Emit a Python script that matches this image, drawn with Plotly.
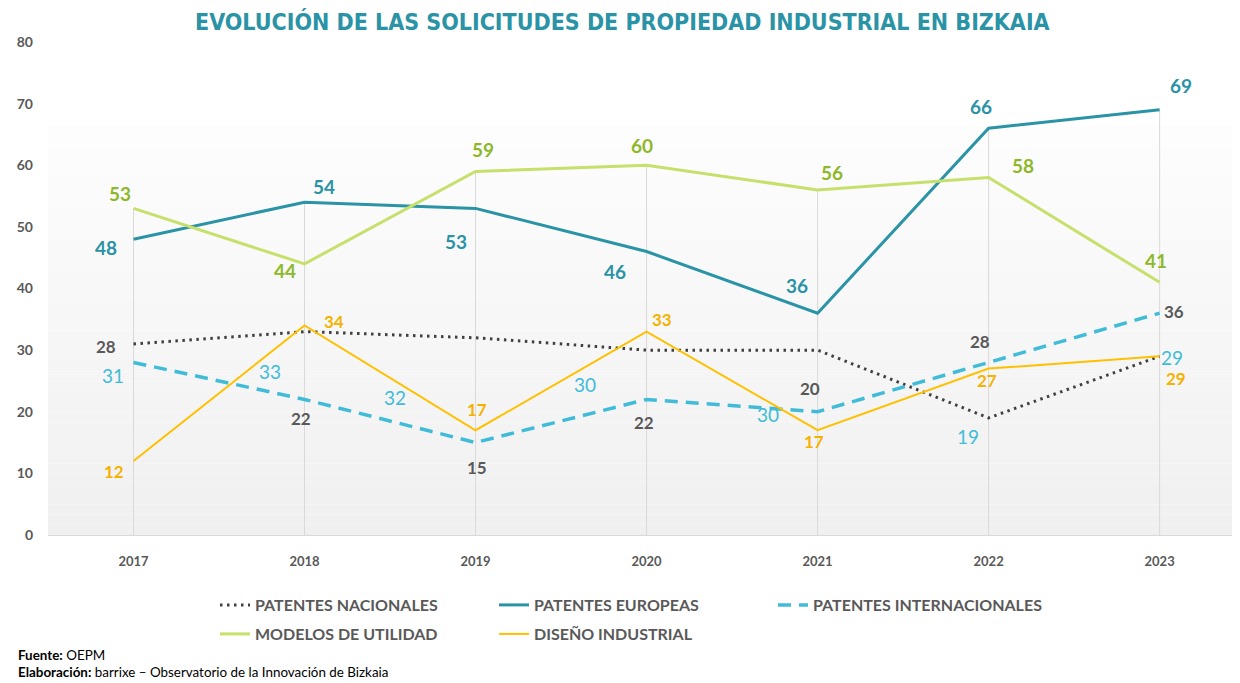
import plotly.graph_objects as go

# ---------------- data ----------------
years = ["2017", "2018", "2019", "2020", "2021", "2022", "2023"]
patentes_nacionales = [31, 33, 32, 30, 30, 19, 29]
patentes_europeas = [48, 54, 53, 46, 36, 66, 69]
patentes_internacionales = [28, 22, 15, 22, 20, 28, 36]
modelos_utilidad = [53, 44, 59, 60, 56, 58, 41]
diseno_industrial = [12, 34, 17, 33, 17, 27, 29]
y_ticks = [0, 10, 20, 30, 40, 50, 60, 70, 80]

title = "EVOLUCIÓN DE LAS SOLICITUDES DE PROPIEDAD INDUSTRIAL EN BIZKAIA"

# ---------------- styles ----------------
GREY = "#595959"
C_NAC = "#404040"
C_EUR = "#2A93A6"
C_INT = "#41BCD8"
C_MOD = "#C6E06C"
C_MOD_LBL = "#8DB82A"
C_DIS = "#FFC000"
C_DIS_LBL = "#F5B200"
LBL_FONT = "Lato"

# label pixel offsets (dx, dy screen-up) relative to the point
shift_eur = [(-28, -8), (19, 16), (-20, -33), (-32, -20), (-21, 28), (-8, 22), (21, 24)]
shift_mod = [(-14, 15), (-20, -7), (7, 22), (-5, 20), (14, 17), (34, 12), (-4, 22)]
shift_dis = [(-20, -10), (29, 4), (1, 21), (15, 12), (-4, -11), (-2, -12), (16, -22)]
shift_int = [(-28, 16), (-4, -19), (1, -25), (-3, -23), (-8, 23), (-9, 21), (14, 2)]
shift_nac = [(-21, -32), (-35, -40), (-81, -60), (-62, -34), (-50, -64), (-21, -19), (12, -1)]

# geometry (reference pixel coordinates; page body adds an 8px offset)
PL, PW = 48, 1192      # plot left / width in reference px
PB, PH = 535, 493      # plot bottom / height in reference px


def px_x(x):
    return (x - PL) / PW


def px_y(y):
    return (PB - y) / PH


fig = go.Figure()

# gradient plot background (bands)
n_bands = 40
grad_top = 66.4
for i in range(n_bands):
    y0 = grad_top * i / n_bands
    y1 = grad_top * (i + 1) / n_bands
    t = i / (n_bands - 1)  # 0 bottom -> 1 top
    v = int(round(240 + (253 - 240) * t))
    fig.add_shape(type="rect", xref="paper", yref="y", x0=0, x1=1, y0=y0, y1=y1,
                  fillcolor=f"rgb({v},{v},{v})", line_width=0, layer="below")

# drop lines from highest value to axis
all_series = [patentes_nacionales, patentes_europeas, patentes_internacionales,
              modelos_utilidad, diseno_industrial]
for i, yr in enumerate(years):
    top = max(s[i] for s in all_series)
    fig.add_shape(type="line", xref="x", yref="y", x0=i, x1=i, y0=0, y1=top,
                  line=dict(color="#D9D9D9", width=1), layer="below")

xs = list(range(len(years)))

fig.add_trace(go.Scatter(x=xs, y=patentes_nacionales, mode="lines", name="PATENTES NACIONALES",
                         line=dict(color=C_NAC, width=3, dash="2.5px,4.5px"), legend="legend"))
fig.add_trace(go.Scatter(x=xs, y=patentes_europeas, mode="lines", name="PATENTES EUROPEAS",
                         line=dict(color=C_EUR, width=3), legend="legend"))
fig.add_trace(go.Scatter(x=xs, y=patentes_internacionales, mode="lines", name="PATENTES INTERNACIONALES",
                         line=dict(color=C_INT, width=3.5, dash="13px,8px"), legend="legend"))
fig.add_trace(go.Scatter(x=xs, y=modelos_utilidad, mode="lines", name="MODELOS DE UTILIDAD",
                         line=dict(color=C_MOD, width=3), legend="legend2"))
fig.add_trace(go.Scatter(x=xs, y=diseno_industrial, mode="lines", name="DISEÑO INDUSTRIAL",
                         line=dict(color=C_DIS, width=2), legend="legend2"))


def add_labels(values, shifts, color, size, bold):
    for i, v in enumerate(values):
        dx, dy = shifts[i]
        txt = f"<b>{v}</b>" if bold else str(v)
        fig.add_annotation(x=i, y=v, xref="x", yref="y", text=txt, showarrow=False,
                           xshift=dx, yshift=dy,
                           font=dict(family=LBL_FONT, size=size, color=color))


add_labels(patentes_europeas, shift_eur, C_EUR, 19, True)
add_labels(modelos_utilidad, shift_mod, C_MOD_LBL, 19, True)
add_labels(diseno_industrial, shift_dis, C_DIS_LBL, 17, True)
add_labels(patentes_internacionales, shift_int, GREY, 17, True)
add_labels(patentes_nacionales, shift_nac, C_INT, 19, False)

# title
fig.add_annotation(x=px_x(622), y=px_y(22), xref="paper", yref="paper",
                   text=f'<span style="font-stretch:condensed">{title}</span>',
                   showarrow=False, yanchor="middle", xanchor="center",
                   font=dict(family="DejaVu Sans Condensed, DejaVu Sans", size=23,
                             color="#2A93A6", weight="bold"))

# footer
fig.add_annotation(x=px_x(16), y=px_y(655), xref="paper", yref="paper",
                   xanchor="left", yanchor="middle", showarrow=False, align="left",
                   text="<b>Fuente:</b> OEPM",
                   font=dict(family="Lato", size=13.4, color="#000000"))
fig.add_annotation(x=px_x(16), y=px_y(672), xref="paper", yref="paper",
                   xanchor="left", yanchor="middle", showarrow=False, align="left",
                   text="<b>Elaboración:</b> barrixe – Observatorio de la Innovación de Bizkaia",
                   font=dict(family="Lato", size=13.4, color="#000000"))

legend_font = dict(family="Lato", size=16, color=GREY, weight="bold")
fig.update_layout(
    width=1232, height=675,
    margin=dict(l=PL - 8, r=0, t=42 - 8, b=675 - (PB - 8)),
    paper_bgcolor="white", plot_bgcolor="white",
    showlegend=True,
    legend=dict(orientation="h", x=px_x(215), y=px_y(588),
                xanchor="left", yanchor="top", entrywidth=234, entrywidthmode="pixels",
                font=legend_font, bgcolor="rgba(0,0,0,0)", traceorder="normal"),
    legend2=dict(orientation="h", x=px_x(215), y=px_y(617),
                 xanchor="left", yanchor="top", entrywidth=234, entrywidthmode="pixels",
                 font=legend_font, bgcolor="rgba(0,0,0,0)", traceorder="normal"),
    xaxis=dict(tickmode="array", tickvals=xs, ticktext=years, range=[-0.5, 6.47],
               showgrid=False, zeroline=False, showline=True, linecolor="#D9D9D9", linewidth=1,
               ticks="", ticklabelstandoff=14,
               tickfont=dict(family="Lato", size=13, color=GREY, weight="bold")),
    yaxis=dict(range=[0, 80], tickvals=y_ticks, showgrid=False, zeroline=False,
               showline=False, ticks="", ticklabelstandoff=14,
               tickfont=dict(family="Lato", size=14, color=GREY, weight="bold")),
)

fig.write_html("out.html")
